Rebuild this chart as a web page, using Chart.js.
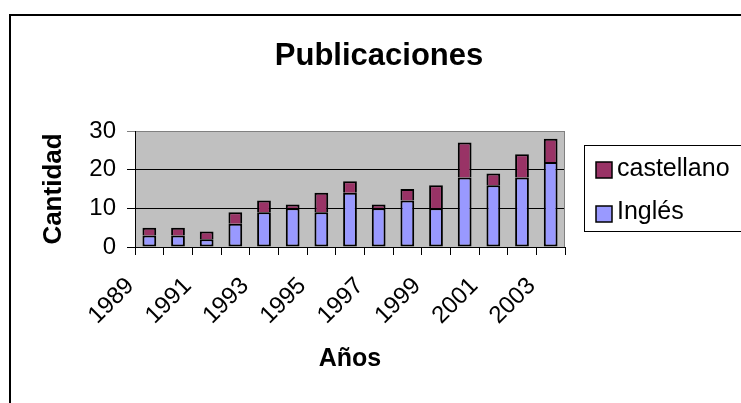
<!DOCTYPE html>
<html>
<head>
<meta charset="utf-8">
<script src="https://cdn.jsdelivr.net/npm/chart.js@4/dist/chart.umd.min.js"></script>
<style>
html,body{margin:0;padding:0;background:#fff;overflow:hidden}
canvas{display:block}
</style>
</head>
<body>
<canvas id="c" width="741" height="403"></canvas>
<script>
// ---- data ----
const years = ['1989','1990','1991','1992','1993','1994','1995','1996','1997','1998','1999','2000','2001','2002','2003'];
const ingles = [3, 3, 2, 6, 9, 10, 9, 14, 10, 12, 10, 18, 16, 18, 22];
const castellano = [2, 2, 2, 3, 3, 1, 5, 3, 1, 3, 6, 9, 3, 6, 6];
const shownYears = ['1989','1991','1993','1995','1997','1999','2001','2003'];
const yTicks = [0, 10, 20, 30];
const chartTitle = 'Publicaciones';
const xTitle = 'Años';
const yTitle = 'Cantidad';

const FONT = "'Liberation Sans', Arial, Helvetica, sans-serif";

const decor = {
  id: 'decor',
  beforeDraw(chart) {
    const ctx = chart.ctx, a = chart.chartArea;
    ctx.save();
    ctx.fillStyle = '#fff';
    ctx.fillRect(0, 0, chart.width, chart.height);
    // outer chart border
    ctx.strokeStyle = '#000';
    ctx.lineWidth = 2;
    ctx.strokeRect(10, 15, 800, 500);
    // plot area background
    ctx.fillStyle = '#C0C0C0';
    ctx.fillRect(a.left, a.top, a.right - a.left, a.bottom - a.top);
    ctx.restore();
  },
  beforeDatasetsDraw(chart) {
    const ctx = chart.ctx, a = chart.chartArea;
    ctx.save();
    ctx.strokeStyle = '#808080';
    ctx.lineWidth = 1;
    ctx.beginPath();
    ctx.moveTo(a.right - 0.5, a.top);
    ctx.lineTo(a.right - 0.5, a.bottom);
    ctx.stroke();
    ctx.restore();
  },
  afterDraw(chart) {
    const ctx = chart.ctx;
    ctx.save();
    // title
    ctx.fillStyle = '#000';
    ctx.font = "bold 31px " + FONT;
    ctx.textAlign = 'center';
    ctx.textBaseline = 'alphabetic';
    ctx.fillText(chartTitle, 379, 65);
    // legend box
    ctx.strokeStyle = '#000';
    ctx.lineWidth = 1;
    ctx.strokeRect(584.5, 145.5, 200, 86);
    // legend items (top: last dataset)
    const ds = chart.data.datasets.slice().reverse();
    const rows = [{y: 162, base: 176}, {y: 206, base: 219}];
    ctx.font = "25px " + FONT;
    ctx.textAlign = 'left';
    ds.forEach((d, i) => {
      const r = rows[i];
      ctx.fillStyle = d.backgroundColor;
      ctx.fillRect(596, r.y, 16, 16);
      ctx.lineWidth = 1.5;
      ctx.strokeStyle = '#000';
      ctx.strokeRect(596, r.y, 16, 16);
      ctx.fillStyle = '#000';
      ctx.fillText(d.label, 617, r.base);
    });
    ctx.restore();
  }
};

new Chart(document.getElementById('c'), {
  type: 'bar',
  data: {
    labels: years,
    datasets: [
      {
        label: 'Inglés',
        data: ingles,
        backgroundColor: '#9999FF',
        borderColor: '#000',
        borderWidth: 2,
        borderSkipped: false,
        categoryPercentage: 1,
        barPercentage: 0.48
      },
      {
        label: 'castellano',
        data: castellano,
        backgroundColor: '#993366',
        borderColor: '#000',
        borderWidth: 2,
        borderSkipped: 'start',
        categoryPercentage: 1,
        barPercentage: 0.48
      }
    ]
  },
  options: {
    responsive: false,
    animation: false,
    devicePixelRatio: 1,
    layout: { padding: { left: 10, right: 176, top: 131, bottom: 0 } },
    plugins: {
      legend: { display: false },
      title: { display: false },
      tooltip: { enabled: false }
    },
    scales: {
      x: {
        stacked: true,
        offset: true,
        grid: {
          offset: true,
          drawOnChartArea: false,
          drawTicks: true,
          tickLength: 8,
          color: '#000',
          lineWidth: 1
        },
        border: { color: '#000', width: 1 },
        ticks: {
          autoSkip: false,
          minRotation: 45,
          maxRotation: 45,
          padding: 17,
          labelOffset: -19,
          color: '#000',
          font: { family: FONT, size: 24 },
          callback: function (value, index) {
            const lab = years[index];
            return shownYears.includes(lab) ? lab : '';
          }
        },
        title: {
          display: true,
          text: xTitle,
          color: '#000',
          font: { family: FONT, size: 25, weight: 'bold' },
          padding: { top: 0, bottom: 29 }
        },
        afterFit: function (scale) { scale.height = 156; }
      },
      y: {
        stacked: true,
        min: 0,
        max: 30,
        afterBuildTicks: function (scale) {
          scale.ticks = yTicks.map(v => ({ value: v }));
        },
        grid: {
          drawTicks: true,
          tickLength: 8,
          color: function (c) { return c.tick && c.tick.value === 30 ? '#808080' : '#000'; },
          lineWidth: 1
        },
        border: { color: '#000', width: 1 },
        ticks: {
          padding: 11,
          color: '#000',
          font: { family: FONT, size: 24 }
        },
        title: {
          display: true,
          text: yTitle,
          color: '#000',
          font: { family: FONT, size: 26, weight: 'bold' },
          padding: { top: 28, bottom: 0 }
        },
        afterFit: function (scale) { scale.width = 125; }
      }
    }
  },
  plugins: [decor]
});
</script>
</body>
</html>
